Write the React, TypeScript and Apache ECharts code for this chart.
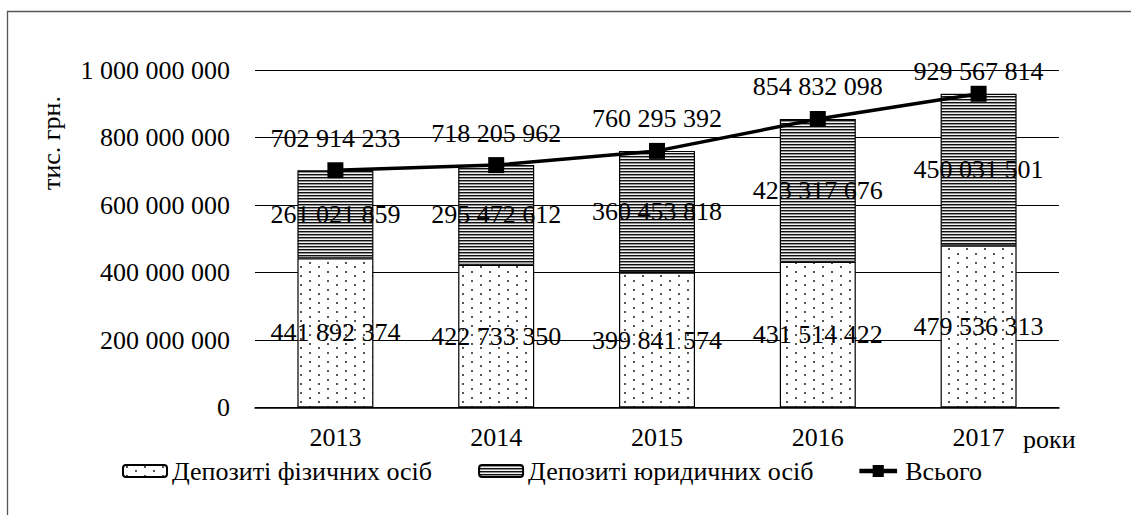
import React, { useEffect, useRef } from 'react';
import * as echarts from 'echarts';

const years = ['2013', '2014', '2015', '2016', '2017'];
const individuals = [441892374, 422733350, 399841574, 431514422, 479536313];
const legalEntities = [261021859, 295472612, 360453818, 423317676, 450031501];
const totals = [702914233, 718205962, 760295392, 854832098, 929567814];
const seriesNames = ['Депозиті фізичних осіб', 'Депозиті юридичних осіб', 'Всього'];
const yMin = 0;
const yMax = 1000000000;
const yInterval = 200000000;
const yAxisTitle = 'тис. грн.';
const xAxisTitle = 'роки';

const FONT = 'Liberation Serif, serif';
const FS = 26;

function fmt(v: number): string {
  return String(v).replace(/\B(?=(\d{3})+(?!\d))/g, ' ');
}

function makeDots(): string {
  const c = document.createElement('canvas');
  c.width = 18;
  c.height = 9;
  const g = c.getContext('2d')!;
  g.fillStyle = '#ffffff';
  g.fillRect(0, 0, 18, 9);
  g.fillStyle = '#555555';
  g.fillRect(3, 1, 2, 2);
  g.fillRect(12, 5, 2, 2);
  return c.toDataURL();
}

function makeStripes(): string {
  const c = document.createElement('canvas');
  c.width = 4;
  c.height = 3;
  const g = c.getContext('2d')!;
  g.fillStyle = '#111111';
  g.fillRect(0, 0, 4, 1);
  g.fillStyle = '#909090';
  g.fillRect(0, 1, 4, 1);
  g.fillStyle = '#f2f2f2';
  g.fillRect(0, 2, 4, 1);
  return c.toDataURL();
}

const lineIcon = 'path://M0,3.5H15.5V-1H28.5V3.5H44V8.5H28.5V13H15.5V8.5H0Z';

export default function App() {
  const ref = useRef<HTMLDivElement>(null);
  useEffect(() => {
    if (!ref.current) return;
    const chart = echarts.init(ref.current, undefined, { renderer: 'svg' });
    const dots = { image: makeDots(), repeat: 'repeat', imageWidth: 18, imageHeight: 9 } as any;
    const stripes = { image: makeStripes(), repeat: 'repeat', imageWidth: 4, imageHeight: 3 } as any;
    const txt = { fontFamily: FONT, fontSize: FS, color: '#000' };
    chart.setOption({
      animation: false,
      backgroundColor: '#fff',
      textStyle: { fontFamily: FONT },
      graphic: [
        {
          type: 'rect',
          silent: true,
          z: -10,
          shape: { x: 7.5, y: 11.5, width: 1300, height: 700 },
          style: { fill: 'none', stroke: '#555', lineWidth: 1.3 },
        },
        {
          type: 'text',
          x: 51,
          y: 143,
          rotation: Math.PI / 2,
          style: {
            text: yAxisTitle,
            font: `${FS}px ${FONT}`,
            fill: '#000',
            align: 'center',
            verticalAlign: 'middle',
          },
        },
        {
          type: 'text',
          x: 1023,
          y: 439,
          style: {
            text: xAxisTitle,
            font: `${FS}px ${FONT}`,
            fill: '#000',
            align: 'left',
            verticalAlign: 'middle',
          },
        },
      ],
      grid: { left: 255, right: 72, top: 70, bottom: 107.5, containLabel: false },
      legend: {
        left: 117,
        top: 453,
        itemWidth: 44,
        itemHeight: 12,
        itemGap: 46,
        textStyle: { ...txt },
        data: [
          { name: seriesNames[0] },
          { name: seriesNames[1] },
          { name: seriesNames[2], icon: lineIcon, itemStyle: { color: '#000', borderWidth: 0 } },
        ],
      },
      xAxis: {
        type: 'category',
        data: years,
        axisTick: { show: false },
        axisLine: { lineStyle: { color: '#000', width: 1.5 } },
        axisLabel: { ...txt, margin: 17 },
      },
      yAxis: {
        type: 'value',
        min: yMin,
        max: yMax,
        interval: yInterval,
        axisLine: { show: false },
        axisTick: { show: false },
        axisLabel: { ...txt, margin: 25, formatter: (v: number) => fmt(v) },
        splitLine: { lineStyle: { color: '#000', width: 1 } },
      },
      series: [
        {
          name: seriesNames[0],
          type: 'bar',
          stack: 'dep',
          barWidth: 76,
          data: individuals,
          itemStyle: { color: dots, borderColor: '#000', borderWidth: 1.2 },
          label: { show: true, position: 'inside', ...txt, formatter: (p: any) => fmt(p.value) },
          labelLayout: { hideOverlap: false },
        },
        {
          name: seriesNames[1],
          type: 'bar',
          stack: 'dep',
          barWidth: 76,
          data: legalEntities,
          itemStyle: { color: stripes, borderColor: '#000', borderWidth: 1.2 },
          label: { show: true, position: 'inside', ...txt, formatter: (p: any) => fmt(p.value) },
          labelLayout: { hideOverlap: false },
        },
        {
          name: seriesNames[2],
          type: 'line',
          data: totals.map((v, i) =>
            i === totals.length - 1 ? { value: v, label: { offset: [0, 10] } } : v
          ),
          symbol: 'rect',
          symbolSize: 16,
          lineStyle: { color: '#000', width: 3.5 },
          itemStyle: { color: '#000' },
          z: 5,
          label: { show: true, position: 'top', distance: 11, ...txt, formatter: (p: any) => fmt(p.value) },
        },
      ],
    });
    return () => chart.dispose();
  }, []);
  return <div ref={ref} style={{ position: 'fixed', left: 0, top: 0, width: 1131, height: 515 }} />;
}
